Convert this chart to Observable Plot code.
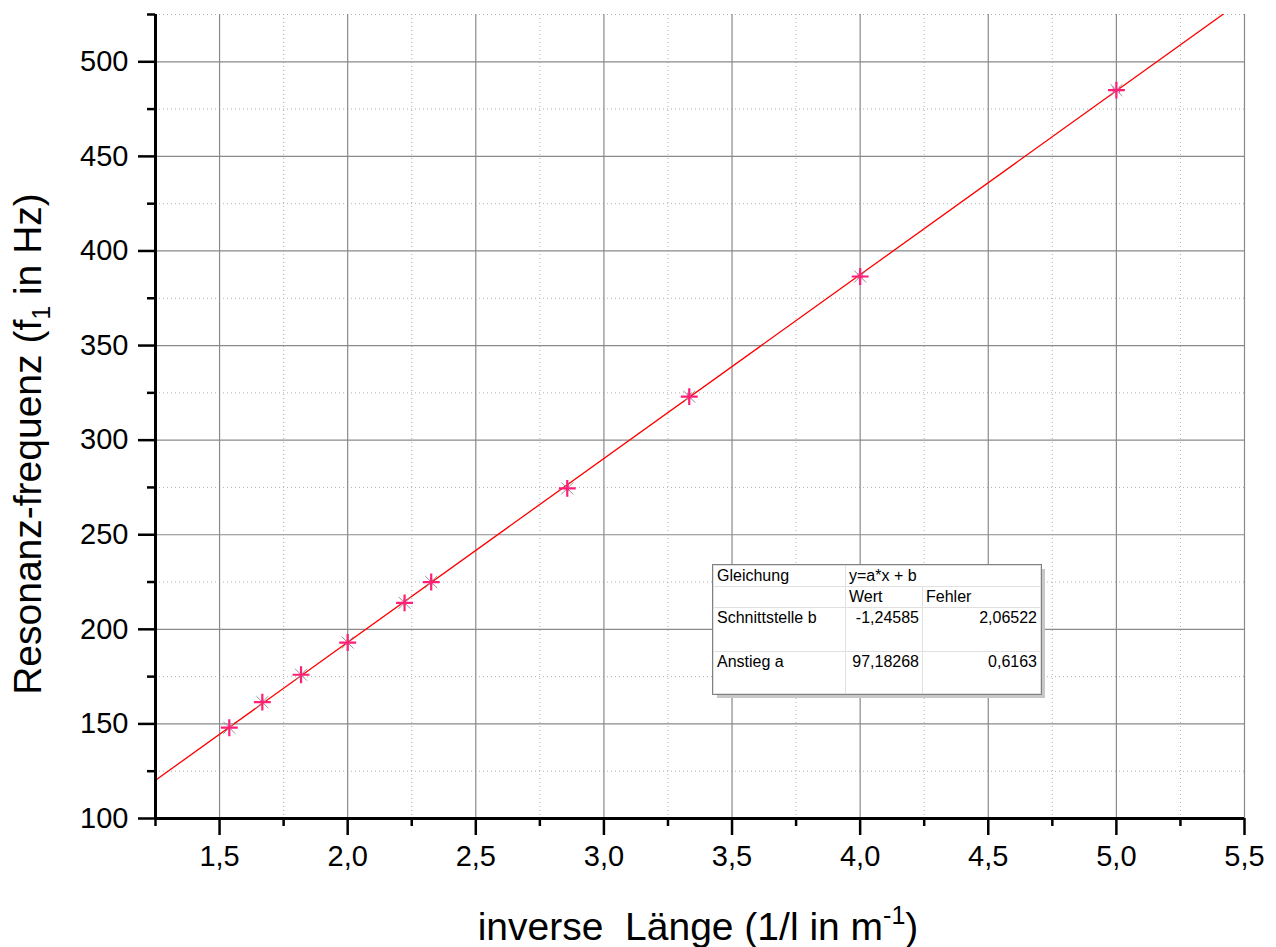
<!DOCTYPE html>
<html>
<head>
<meta charset="utf-8">
<script src="https://cdn.jsdelivr.net/npm/d3@7"></script>
<script src="https://cdn.jsdelivr.net/npm/@observablehq/plot@0.6"></script>
<style>
  html, body { margin: 0; padding: 0; background: #fff; }
  #wrap { position: relative; width: 1276px; height: 947px; overflow: hidden; font-family: "Liberation Sans", Arial, sans-serif; }
  #fit { position: absolute; left: 713px; top: 565px; border-collapse: collapse; background: #fff;
         font-family: "Liberation Sans", Arial, sans-serif; font-size: 16px; color: #000;
         box-shadow: 4px 4px 0 #c8c8c8; outline: 1px solid #808080; }
  #fit td { border: 1px solid #e0e0e0; padding: 1px 3px 0 3px; vertical-align: top; line-height: 18px; white-space: nowrap; }
  #fit td.r { text-align: right; }
</style>
</head>
<body>
<div id="wrap"></div>
<script>
// ---- data ----
const invLength = [1.538, 1.667, 1.818, 2.0, 2.222, 2.326, 2.857, 3.333, 4.0, 5.0];
const frequency = [148, 161.5, 176, 193, 214, 225, 274.5, 323, 386.5, 485];
const invLengthErr = [0.001, 0.0014, 0.0017, 0.002, 0.0025, 0.0027, 0.004, 0.0056, 0.008, 0.0125];
const fitSlope = 97.18268;
const fitIntercept = -1.24585;
const fitSlopeErr = 0.6163;
const fitInterceptErr = 2.06522;
const xMajorTicks = [1.5, 2.0, 2.5, 3.0, 3.5, 4.0, 4.5, 5.0, 5.5];
const xMinorTicks = [1.25, 1.75, 2.25, 2.75, 3.25, 3.75, 4.25, 4.75, 5.25];
const yMajorTicks = [100, 150, 200, 250, 300, 350, 400, 450, 500];
const yMinorTicks = [125, 175, 225, 275, 325, 375, 425, 475, 525];
const xDomain = [1.25, 5.5];
const yDomain = [100, 525];

const points = invLength.map((x, i) => ({x, y: frequency[i], e: invLengthErr[i]}));
const fitLine = xDomain.map(x => ({x, y: fitSlope * x + fitIntercept}));
const fmt = (d, n) => d.toFixed(n).replace(".", ",");
const capHalf = 1.6; // half-height of error-bar caps, in y units

const plot = Plot.plot({
  width: 1276,
  height: 947,
  marginLeft: 155,
  marginRight: 32,
  marginTop: 14,
  marginBottom: 129,
  style: {fontFamily: "'Liberation Sans', Arial, sans-serif", background: "#fff", color: "#000"},
  x: {type: "linear", domain: xDomain, axis: null},
  y: {type: "linear", domain: yDomain, axis: null},
  marks: [
    Plot.gridX(xMinorTicks, {stroke: "#b0b0b0", strokeOpacity: 1, strokeDasharray: "1,3"}),
    Plot.gridY(yMinorTicks, {stroke: "#b0b0b0", strokeOpacity: 1, strokeDasharray: "1,3"}),
    Plot.gridX(xMajorTicks, {stroke: "#8a8a8a", strokeOpacity: 1, strokeWidth: 1.2}),
    Plot.gridY(yMajorTicks, {stroke: "#8a8a8a", strokeOpacity: 1, strokeWidth: 1.2}),
    Plot.line(fitLine, {x: "x", y: "y", stroke: "#ff0000", strokeWidth: 1.3, clip: true}),
    Plot.link(points, {x1: d => d.x - d.e, x2: d => d.x + d.e, y1: "y", y2: "y", stroke: "#ff3399", strokeWidth: 1}),
    Plot.ruleX(points, {x: d => d.x - d.e, y1: d => d.y - capHalf, y2: d => d.y + capHalf, stroke: "#ff3399", strokeWidth: 1}),
    Plot.ruleX(points, {x: d => d.x + d.e, y1: d => d.y - capHalf, y2: d => d.y + capHalf, stroke: "#ff3399", strokeWidth: 1}),
    Plot.dot(points, {x: "x", y: "y", symbol: "times", r: 5.5, stroke: "#909090", strokeWidth: 1}),
    Plot.dot(points, {x: "x", y: "y", symbol: "plus", r: 5.5, stroke: "#ff1f78", strokeWidth: 2.2}),
    Plot.axisX(xMinorTicks, {tickSize: 8, text: null, label: null, strokeWidth: 2.5, stroke: "#000"}),
    Plot.axisY(yMinorTicks, {tickSize: 8, text: null, label: null, strokeWidth: 2.5, stroke: "#000"}),
    Plot.axisX(xMajorTicks, {tickSize: 17, tickPadding: 10, strokeWidth: 2.5, stroke: "#000", fontSize: 29, tickFormat: d => fmt(d, 1), label: null}),
    Plot.axisY(yMajorTicks, {tickSize: 17, tickPadding: 10, strokeWidth: 2.5, stroke: "#000", fontSize: 29, tickFormat: d => String(d), label: null}),
    Plot.ruleX([xDomain[0]], {stroke: "#000", strokeWidth: 3}),
    Plot.ruleY([yDomain[0]], {stroke: "#000", strokeWidth: 3})
  ]
});

const wrap = document.getElementById("wrap");
wrap.appendChild(plot);

// axis titles with sub/superscripts
const svg = d3.select(plot);
const xt = svg.append("text")
  .attr("x", 698).attr("y", 940).attr("text-anchor", "middle")
  .attr("font-size", 39).attr("fill", "#000")
  .attr("font-family", "'Liberation Sans', Arial, sans-serif")
  .attr("xml:space", "preserve");
xt.append("tspan").text("inverse  Länge (1/l in m");
xt.append("tspan").attr("dy", -16).attr("font-size", 25).text("-1");
xt.append("tspan").attr("dy", 16).text(")");

const yt = svg.append("text")
  .attr("transform", "translate(41,444) rotate(-90)")
  .attr("text-anchor", "middle")
  .attr("font-size", 39).attr("fill", "#000")
  .attr("font-family", "'Liberation Sans', Arial, sans-serif");
yt.append("tspan").text("Resonanz-frequenz (f");
yt.append("tspan").attr("dy", 9).attr("font-size", 25).text("1");
yt.append("tspan").attr("dy", -9).text(" in Hz)");

// fit parameter table
const table = document.createElement("table");
table.id = "fit";
table.innerHTML = `
<colgroup><col style="width:132px"><col style="width:77px"><col style="width:118px"></colgroup>
<tr style="height:21px"><td>Gleichung</td><td colspan="2">y=a*x + b</td></tr>
<tr style="height:21px"><td></td><td>Wert</td><td>Fehler</td></tr>
<tr style="height:44px"><td>Schnittstelle b</td><td class="r">${fmt(fitIntercept, 5)}</td><td class="r">${fmt(fitInterceptErr, 5)}</td></tr>
<tr style="height:42px"><td>Anstieg a</td><td class="r">${fmt(fitSlope, 5)}</td><td class="r">${fmt(fitSlopeErr, 4)}</td></tr>`;
wrap.appendChild(table);
</script>
</body>
</html>
